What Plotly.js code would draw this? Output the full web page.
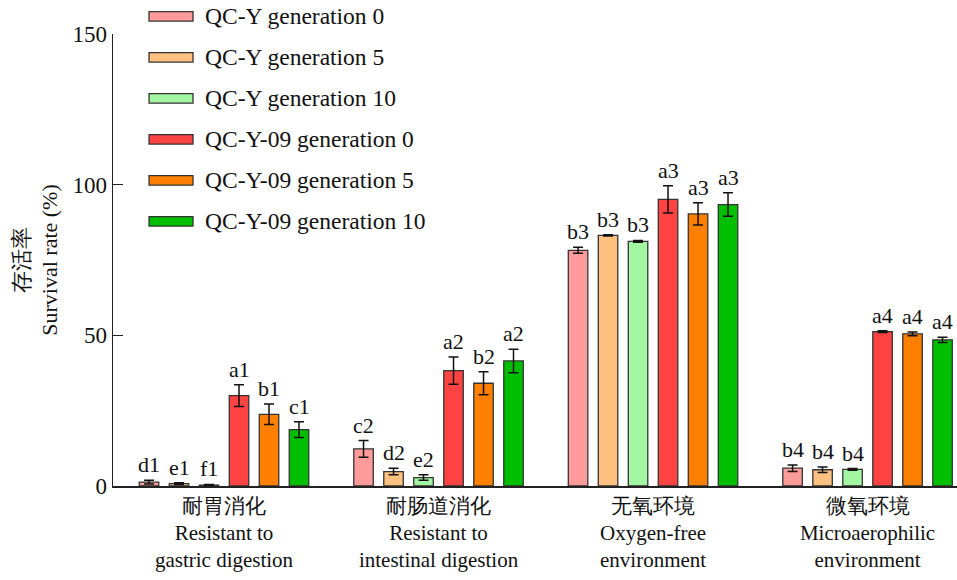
<!DOCTYPE html>
<html>
<head>
<meta charset="utf-8">
<script src="https://cdn.plot.ly/plotly-3.0.1.min.js"></script>
<style>html,body{margin:0;padding:0;background:#fff;}#chart{width:957px;height:580px;}</style>
</head>
<body>
<div id="chart"></div>
<script>
// ---- data ----
const categories = [
  "耐胃消化<br>Resistant to<br>gastric digestion",
  "耐肠道消化<br>Resistant to<br>intestinal digestion",
  "无氧环境<br>Oxygen-free<br>environment",
  "微氧环境<br>Microaerophilic<br>environment"
];
const seriesNames = [
  "QC-Y generation 0",
  "QC-Y generation 5",
  "QC-Y generation 10",
  "QC-Y-09 generation 0",
  "QC-Y-09 generation 5",
  "QC-Y-09 generation 10"
];
const qcy_g0   = [1.3, 12.3, 78.2, 5.9];
const qcy_g5   = [0.8, 4.8, 83.2, 5.4];
const qcy_g10  = [0.3, 2.8, 81.2, 5.5];
const qcy09_g0 = [30.0, 38.3, 95.1, 51.2];
const qcy09_g5 = [23.8, 34.1, 90.3, 50.5];
const qcy09_g10= [18.7, 41.5, 93.4, 48.5];

const err_qcy_g0   = [0.6, 2.8, 1.0, 1.1];
const err_qcy_g5   = [0.3, 1.1, 0.2, 0.9];
const err_qcy_g10  = [0.2, 0.9, 0.3, 0.3];
const err_qcy09_g0 = [3.6, 4.5, 4.5, 0.3];
const err_qcy09_g5 = [3.4, 3.8, 3.7, 0.6];
const err_qcy09_g10= [2.6, 3.9, 3.9, 0.9];

const letters_qcy_g0   = ["d1", "c2", "b3", "b4"];
const letters_qcy_g5   = ["e1", "d2", "b3", "b4"];
const letters_qcy_g10  = ["f1", "e2", "b3", "b4"];
const letters_qcy09_g0 = ["a1", "a2", "a3", "a4"];
const letters_qcy09_g5 = ["b1", "b2", "a3", "a4"];
const letters_qcy09_g10= ["c1", "a2", "a3", "a4"];

const yTickVals = [0, 50, 100, 150];

// ---- styling ----
const colors = ["#FF9B9B", "#FFC182", "#A3F7A3", "#FF4242", "#FF8000", "#00BF00"];
const values = [qcy_g0, qcy_g5, qcy_g10, qcy09_g0, qcy09_g5, qcy09_g10];
const errors = [err_qcy_g0, err_qcy_g5, err_qcy_g10, err_qcy09_g0, err_qcy09_g5, err_qcy09_g10];
const letters = [letters_qcy_g0, letters_qcy_g5, letters_qcy_g10, letters_qcy09_g0, letters_qcy09_g5, letters_qcy09_g10];

const serif = 'Liberation Serif';
const bargap = 0.161, bargroupgap = 0.35;
const nS = values.length;
const slot = (1 - bargap) / nS;

const traces = values.map((v, s) => ({
  type: 'bar',
  name: seriesNames[s],
  x: categories,
  y: v,
  marker: {color: colors[s], line: {color: '#333333', width: 1.3}},
  error_y: {type: 'data', array: errors[s], visible: true, color: '#111111', thickness: 1.5, width: 5},
  showlegend: false,
  hoverinfo: 'y'
}));

const annotations = [];
values.forEach((v, s) => {
  v.forEach((val, i) => {
    annotations.push({
      x: i + (s - (nS - 1) / 2) * slot,
      y: val + errors[s][i],
      xref: 'x', yref: 'y',
      text: letters[s][i],
      showarrow: false,
      yanchor: 'bottom',
      yshift: 1,
      font: {family: serif, size: 22, color: '#111'}
    });
  });
});

// manual legend (wide flat patches as in the reference)
const shapes = [];
const legTop = 1.039, legStep = 0.0907;
seriesNames.forEach((n, s) => {
  const yc = legTop - s * legStep;
  shapes.push({
    type: 'rect', xref: 'paper', yref: 'paper',
    x0: 0.0427, x1: 0.0948, y0: yc - 0.0105, y1: yc + 0.0105,
    fillcolor: colors[s], line: {color: '#333333', width: 1.3}
  });
  annotations.push({
    xref: 'paper', yref: 'paper', x: 0.1066, y: yc,
    xanchor: 'left', yanchor: 'middle', showarrow: false,
    text: n, font: {family: serif, size: 23.5, color: '#111'}
  });
});

const layout = {
  width: 957, height: 580,
  margin: {l: 113, r: 0, t: 34, b: 94, pad: 0},
  paper_bgcolor: '#fff', plot_bgcolor: '#fff',
  barmode: 'group', bargap: bargap, bargroupgap: bargroupgap,
  showlegend: false,
  font: {family: serif, color: '#111'},
  xaxis: {
    type: 'category',
    range: [-0.5175, 3.417],
    showline: true, linecolor: '#222', linewidth: 1.5,
    ticks: '', showgrid: false, zeroline: false,
    tickfont: {family: serif, size: 21, color: '#111'}
  },
  yaxis: {
    range: [0, 150],
    tickvals: yTickVals,
    showline: true, linecolor: '#222', linewidth: 1.5,
    ticks: 'inside', ticklen: 10, tickwidth: 1.5, tickcolor: '#222',
    showgrid: false, zeroline: false,
    tickfont: {family: serif, size: 23, color: '#111'},
    title: {text: '存活率<br>Survival rate (%)', font: {family: serif, size: 22, color: '#111'}, standoff: 8}
  },
  annotations: annotations,
  shapes: shapes
};

Plotly.newPlot('chart', traces, layout, {displayModeBar: false, staticPlot: true});
</script>
</body>
</html>
